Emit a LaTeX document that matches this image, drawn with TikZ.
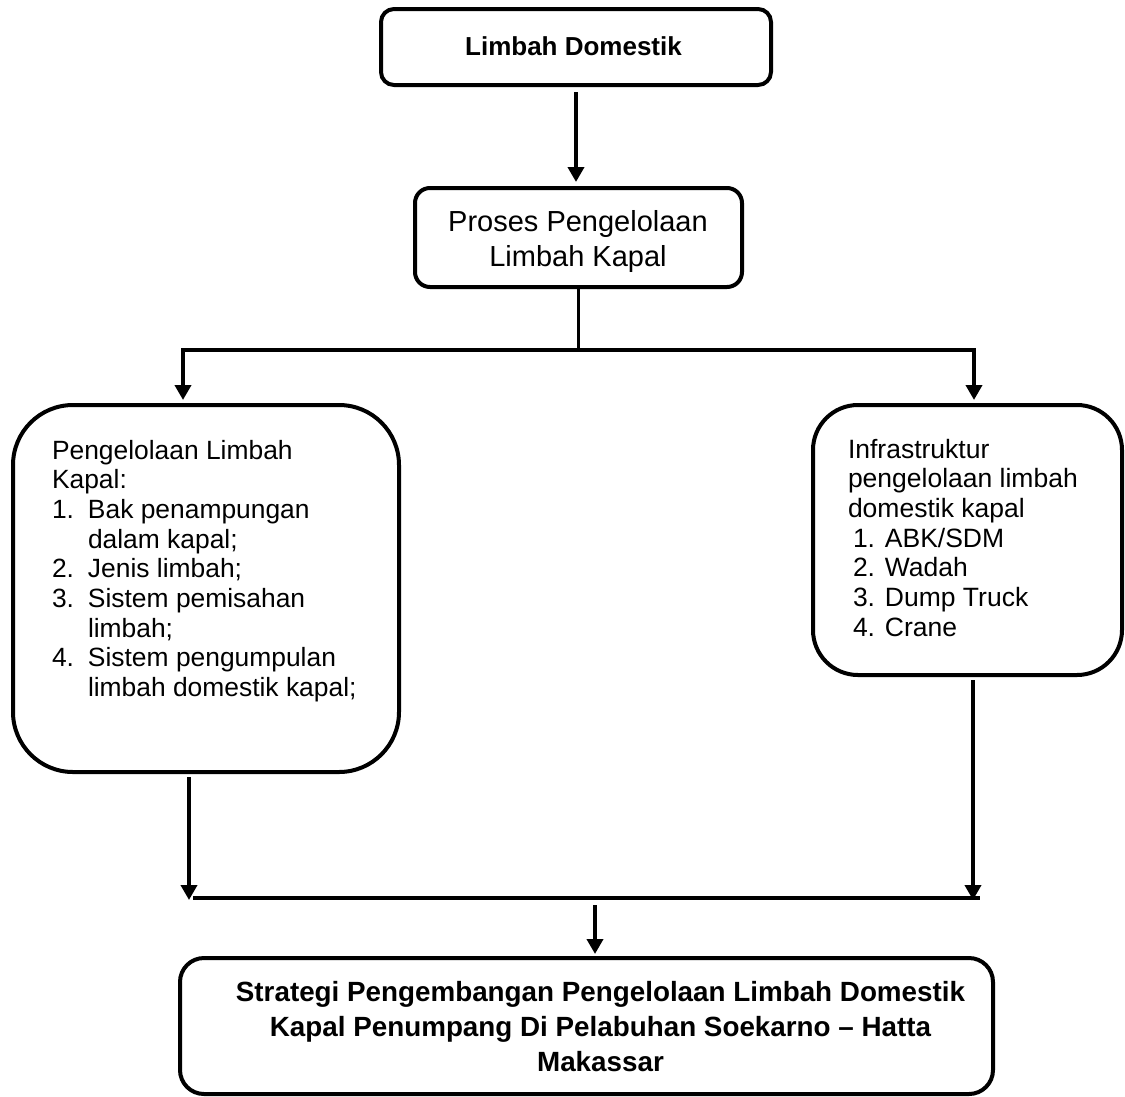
\documentclass[tikz,border=0pt]{standalone}
\usepackage{fontspec}
\setmainfont{Liberation Sans}
\usetikzlibrary{arrows.meta}
\begin{document}
\begin{tikzpicture}[x=1pt,y=-1pt,
  box/.style={draw, line width=4pt, inner sep=0pt},
  conn/.style={line width=3.8pt},
  arr/.style={conn, -{Triangle[width=16pt,length=15pt]}},
  txt/.style={inner sep=0pt, outer sep=0pt}]
\useasboundingbox (0,0) rectangle (1125,1096);
% boxes
\node[box, rounded corners=13pt, minimum width=390pt, minimum height=76pt] (top) at (576,47) {};
\node[box, rounded corners=15pt, minimum width=327pt, minimum height=99pt] (proc) at (578.5,237.5) {};
\node[box, rounded corners=60pt, minimum width=386pt, minimum height=367pt] (kel) at (206,588.5) {};
\node[box, rounded corners=45pt, minimum width=309pt, minimum height=270pt] (infra) at (967.5,540) {};
\node[box, rounded corners=24pt, minimum width=813pt, minimum height=136pt] (strat) at (586.5,1026) {};
% texts
\node[txt, anchor=base] (topt) at (573.5,55) {\fontsize{26}{30}\selectfont\bfseries Limbah Domestik};
\node[txt, anchor=base] (proct) at (578,231) {\begin{minipage}[t]{320pt}\centering\fontsize{29}{35}\selectfont Proses Pengelolaan\\Limbah Kapal\end{minipage}};
\node[txt, anchor=base west] (kelt) at (52,459) {\begin{minipage}[t]{340pt}\fontsize{26.4}{29.7}\selectfont
Pengelolaan Limbah\\
Kapal:\\
\makebox[36pt][l]{1.}Bak penampungan\\
\hspace*{36pt}dalam kapal;\\
\makebox[36pt][l]{2.}Jenis limbah;\\
\makebox[36pt][l]{3.}Sistem pemisahan\\
\hspace*{36pt}limbah;\\
\makebox[36pt][l]{4.}Sistem pengumpulan\\
\hspace*{36pt}limbah domestik kapal;
\end{minipage}};
\node[txt, anchor=base west] (infrat) at (848,458) {\begin{minipage}[t]{270pt}\fontsize{26.5}{29.7}\selectfont
Infrastruktur\\
pengelolaan limbah\\
domestik kapal\\
\hspace*{5pt}1. ABK/SDM\\
\hspace*{5pt}2. Wadah\\
\hspace*{5pt}3. Dump Truck\\
\hspace*{5pt}4. Crane
\end{minipage}};
\node[txt, anchor=base] (stratt) at (600.5,1001.5) {\begin{minipage}[t]{800pt}\centering\fontsize{27.8}{35}\selectfont\bfseries Strategi Pengembangan Pengelolaan Limbah Domestik\\Kapal Penumpang Di Pelabuhan Soekarno – Hatta\\Makassar\end{minipage}};
% connectors
\draw[arr] ([yshift=-5pt]top.south) -- ([yshift=4pt]top.south |- proc.north);
\coordinate (lj) at (183,350);
\coordinate (rj) at (974,350);
\draw[arr] (proc.south) |- (lj) -- ([yshift=3pt]lj |- kel.north);
\draw[arr] (proc.south) |- (rj) -- ([yshift=3pt]rj |- infra.north);
\coordinate (ml) at (189,898);
\coordinate (mr) at (980,898);
\coordinate (mm) at (595,898);
\coordinate (rb) at (973,898);
\draw[conn] ([xshift=4pt]ml) -- (mr);
\draw[arr] ([yshift=-3pt]ml |- kel.south) -- ([yshift=-2pt]ml);
\draw[arr] ([yshift=-3pt]rb |- infra.south) -- ([yshift=-2pt]rb);
\draw[arr] ([yshift=-7pt]mm) -- ([yshift=2pt]mm |- strat.north);
\end{tikzpicture}
\end{document}
